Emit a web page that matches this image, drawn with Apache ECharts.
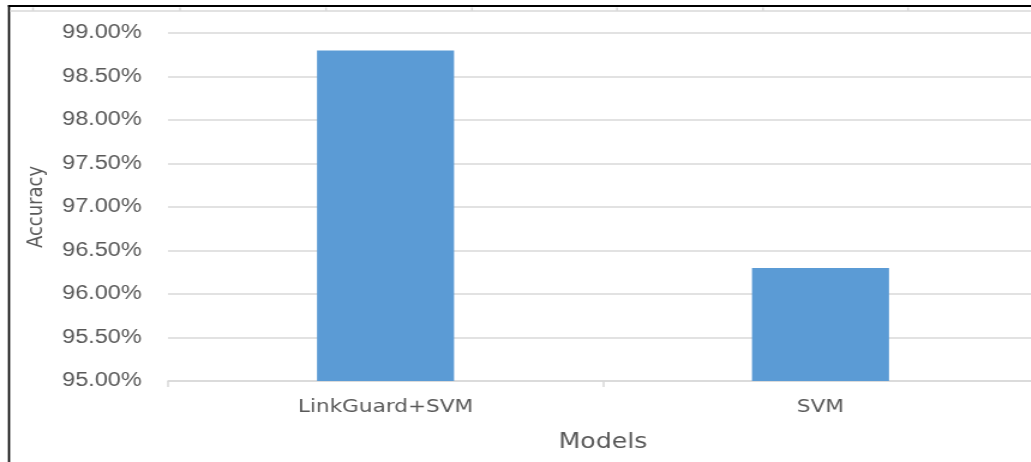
<!DOCTYPE html>
<html>
<head>
<meta charset="utf-8">
<script src="https://cdn.jsdelivr.net/npm/echarts@6/dist/echarts.min.js"></script>
<style>
  html, body { margin: 0; padding: 0; background: #fff; overflow: hidden; }
  #wrap { width: 1031px; height: 462px; overflow: hidden; position: relative; }
  #chart { width: 900px; height: 462px; transform: scaleX(1.2); transform-origin: 0 0; position: absolute; left: 0; top: 0; }
</style>
</head>
<body>
<div id="wrap"><div id="chart"></div></div>
<script>
const categories = ['LinkGuard+SVM', 'SVM'];
const accuracy = [98.80, 96.30];
const yMin = 95, yMax = 99, yStep = 0.5;
const xTitle = 'Models';
const yTitle = 'Accuracy';

const S = 1.2; // horizontal stretch of the original picture
const X = v => v / S;
const topTicks = [33, 180, 326, 472, 617, 763, 908];

const graphics = [
  { type: 'rect', shape: { x: X(8), y: 5, width: X(1031), height: 2 }, style: { fill: '#000' }, silent: true },
  { type: 'rect', shape: { x: X(8), y: 5, width: X(2), height: 462 }, style: { fill: '#000' }, silent: true },
  { type: 'line', shape: { x1: X(10), y1: 11, x2: X(1031), y2: 11 }, style: { stroke: '#d9d9d9', lineWidth: 1.5 }, silent: true }
].concat(topTicks.map(t => ({
  type: 'line', shape: { x1: X(t), y1: 7.5, x2: X(t), y2: 11 }, style: { stroke: '#d9d9d9', lineWidth: 1.5 }, silent: true
})));

const txt = { color: '#595959', fontFamily: 'DejaVu Sans', fontSize: 18 };

const chart = echarts.init(document.getElementById('chart'), null, { renderer: 'canvas' });
chart.setOption({
  backgroundColor: '#fff',
  animation: false,
  graphic: graphics,
  grid: { left: X(168), top: 33, width: X(870), height: 348, containLabel: false },
  xAxis: {
    type: 'category',
    data: categories,
    name: xTitle,
    nameLocation: 'middle',
    nameGap: 51,
    nameTextStyle: Object.assign({}, txt, { fontSize: 21 }),
    axisLine: { show: true, lineStyle: { color: '#d9d9d9', width: 1.5 } },
    axisTick: { show: true, length: 6, lineStyle: { color: '#d9d9d9', width: 1.5 } },
    axisLabel: Object.assign({}, txt, { margin: 17 }),
    splitLine: { show: false }
  },
  yAxis: {
    type: 'value',
    min: yMin, max: yMax, interval: yStep,
    name: yTitle,
    nameLocation: 'middle',
    nameRotate: 90,
    nameGap: 101,
    nameTextStyle: txt,
    axisLine: { show: false },
    axisTick: { show: false },
    axisLabel: Object.assign({}, txt, { fontFamily: 'Liberation Sans', fontSize: 19.5, margin: 22, formatter: v => v.toFixed(2) + '%' }),
    splitLine: { show: true, lineStyle: { color: '#d9d9d9', width: 1.5 } }
  },
  series: [{
    type: 'bar',
    data: accuracy,
    barWidth: '31.5%',
    itemStyle: { color: '#5b9bd5' }
  }]
});
</script>
</body>
</html>
